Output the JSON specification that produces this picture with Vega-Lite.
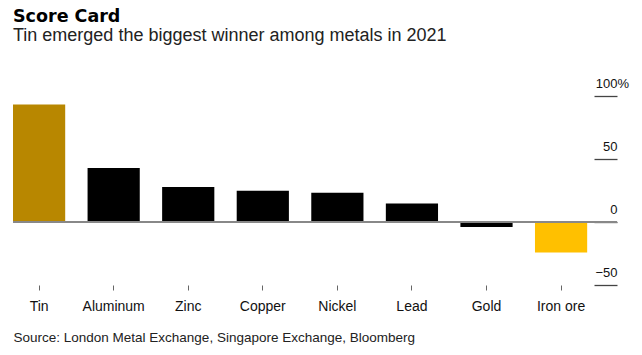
{
  "$schema": "https://vega.github.io/schema/vega-lite/v6.json",
  "width": 604,
  "height": 189,
  "autosize": {"type": "none"},
  "padding": {"left": 13, "top": 96, "right": 25, "bottom": 70},
  "background": "white",
  "config": {"view": {"stroke": null}},
  "title": {
    "text": "Score Card",
    "subtitle": "Tin emerged the biggest winner among metals in 2021",
    "anchor": "start",
    "frame": "group",
    "font": "DejaVu Sans",
    "fontSize": 17.5,
    "fontWeight": "bold",
    "color": "#000",
    "subtitleFont": "Liberation Sans",
    "subtitleFontSize": 18,
    "subtitleColor": "#222",
    "subtitlePadding": 1.5,
    "offset": 32.2
  },
  "data": {
    "values": [
      {"metal": "Tin", "value": 93.3},
      {"metal": "Aluminum", "value": 42.8},
      {"metal": "Zinc", "value": 27.7},
      {"metal": "Copper", "value": 24.9},
      {"metal": "Nickel", "value": 23.3},
      {"metal": "Lead", "value": 14.6},
      {"metal": "Gold", "value": -4.0},
      {"metal": "Iron ore", "value": -24.2}
    ]
  },
  "resolve": {"axis": {"y": "independent"}},
  "layer": [
    {
      "mark": {"type": "bar"},
      "encoding": {
        "x": {
          "field": "metal",
          "type": "nominal",
          "sort": null,
          "scale": {"paddingInner": 0.3, "paddingOuter": 0.2, "align": 0},
          "axis": {
            "title": "Source: London Metal Exchange, Singapore Exchange, Bloomberg",
            "titleAnchor": "start",
            "titleAlign": "left",
            "titleX": 0,
            "titleY": 56,
            "titleBaseline": "alphabetic",
            "titleFont": "Liberation Sans",
            "titleFontSize": 13.5,
            "titleFontWeight": "normal",
            "titleColor": "#222",
            "domain": false,
            "ticks": true,
            "tickSize": 5,
            "tickColor": "#666",
            "tickWidth": 1,
            "labelAngle": 0,
            "labelFont": "Liberation Sans",
            "labelFontSize": 14,
            "labelColor": "#111",
            "labelBaseline": "alphabetic",
            "labelPadding": 20.7
          }
        },
        "y": {
          "field": "value",
          "type": "quantitative",
          "scale": {"domain": [-50, 100], "nice": false, "zero": false},
          "axis": {
            "orient": "right",
            "title": null,
            "values": [-50, 0, 50, 100],
            "domain": false,
            "grid": false,
            "ticks": true,
            "tickSize": -23,
            "tickColor": "#444",
            "tickWidth": 1.3,
            "labelAlign": "right",
            "labelBaseline": "alphabetic",
            "labelOffset": -9,
            "labelPadding": 23,
            "labelFont": "Liberation Sans",
            "labelFontSize": 13,
            "labelColor": "#111"
          }
        },
        "color": {
          "field": "metal",
          "type": "nominal",
          "scale": {
            "domain": ["Tin", "Aluminum", "Zinc", "Copper", "Nickel", "Lead", "Gold", "Iron ore"],
            "range": ["#B88700", "#000000", "#000000", "#000000", "#000000", "#000000", "#000000", "#FFC000"]
          },
          "legend": null
        }
      }
    },
    {
      "mark": {"type": "rule", "color": "#888", "strokeWidth": 1.5},
      "encoding": {
        "y": {
          "datum": 0,
          "type": "quantitative",
          "axis": {
            "orient": "right",
            "title": null,
            "values": [100],
            "labelExpr": "'%'",
            "domain": false,
            "grid": false,
            "ticks": false,
            "labelAlign": "left",
            "labelBaseline": "alphabetic",
            "labelOffset": -9,
            "labelPadding": 0,
            "labelFont": "Liberation Sans",
            "labelFontSize": 13,
            "labelColor": "#111"
          }
        }
      }
    }
  ]
}
